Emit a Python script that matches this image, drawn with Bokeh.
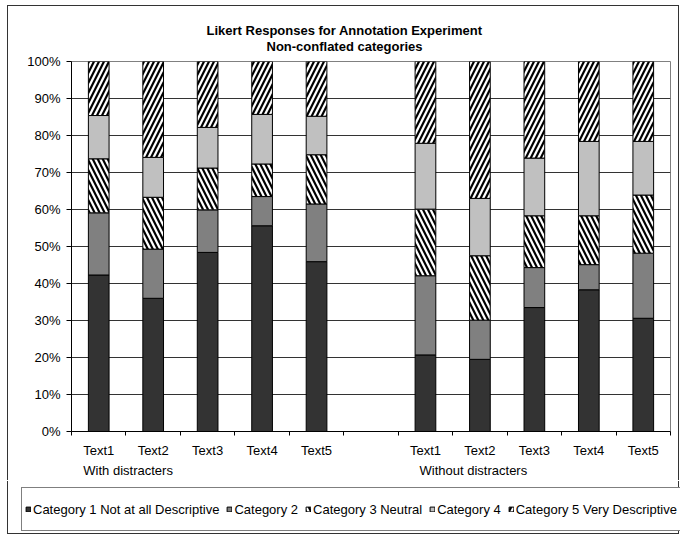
from bokeh.plotting import figure
from bokeh.models import (Range1d, FixedTicker, NumeralTickFormatter, LinearAxis, Label,
                          Legend, LegendItem, ColumnDataSource)
from bokeh.embed import file_html
from bokeh.resources import INLINE

# ---------------- data ----------------
title_line1 = "Likert Responses for Annotation Experiment"
title_line2 = "Non-conflated categories"
groups = ["With distracters", "Without distracters"]
texts = ["Text1", "Text2", "Text3", "Text4", "Text5"]
categories = ["Category 1 Not at all Descriptive", "Category 2", "Category 3 Neutral",
              "Category 4", "Category 5 Very Descriptive"]
# percentages per bar: 5 texts "With distracters", then 5 texts "Without distracters"
cat1 = [42.3, 36.0, 48.4, 55.6, 45.9, 20.7, 19.5, 33.5, 38.3, 30.6]
cat2 = [16.8, 13.3, 11.5, 7.9, 15.6, 21.4, 10.6, 10.8, 6.8, 17.6]
cat3 = [14.6, 14.0, 11.3, 8.8, 13.3, 18.0, 17.4, 14.0, 13.2, 15.7]
cat4 = [11.7, 10.8, 11.0, 13.4, 10.4, 17.8, 15.5, 15.6, 20.1, 14.5]
cat5 = [14.6, 25.9, 17.8, 14.3, 14.8, 22.1, 37.0, 26.1, 21.6, 21.6]
y_ticks = [i / 10 for i in range(11)]

# ---------------- styles ----------------
FONT = "Liberation Sans"
W = 672
BORDER = "1px solid #333333"
fills = ["#333333", "#808080", "white", "#c0c0c0", "white"]
hatches = [" ", " ", "left_diagonal_line", " ", "right_diagonal_line"]
HATCH = dict(hatch_color="black", hatch_weight=2.2, hatch_scale=10)

series = [cat1, cat2, cat3, cat4, cat5]
n = len(cat1)
totals = [sum(s[i] for s in series) for i in range(n)]
keys = ["c1", "c2", "c3", "c4", "c5"]
slots_per_group = len(texts) + 1
xs = [g * slots_per_group + i + 1 for g in range(len(groups)) for i in range(len(texts))]
data = {"x": xs}
for k, s in zip(keys, series):
    data[k] = [s[i] / totals[i] for i in range(n)]
source = ColumnDataSource(data)
n_slots = len(groups) * slots_per_group - 1


def strip(height, fill):
    f = figure(width=W, height=height, x_range=Range1d(0, W), y_range=Range1d(0, height),
               output_backend="svg", toolbar_location=None, title=None,
               x_axis_location=None, y_axis_location=None,
               min_border_left=0, min_border_right=0, min_border_top=0, min_border_bottom=0,
               outline_line_color=None, background_fill_color=fill, border_fill_color=fill)
    f.grid.visible = False
    return f


# ---------------- main chart ----------------
PH = 475
p = figure(width=W, height=PH, x_range=Range1d(0.5, n_slots + 0.5), y_range=Range1d(0, 1),
           output_backend="svg", toolbar_location=None, title=None,
           min_border_left=63, min_border_right=10, min_border_top=55, min_border_bottom=50,
           background_fill_color="white", border_fill_color="white",
           outline_line_color="#808080", outline_line_width=1)
p.styles = {"position": "absolute", "left": "7px", "top": "5px",
            "border-top": BORDER, "border-left": BORDER, "border-right": BORDER}

renderers = p.vbar_stack(keys, x="x", width=0.38, source=source,
                         fill_color=fills, line_color="black", line_width=1,
                         hatch_pattern=hatches, **HATCH)

ya = p.yaxis[0]
ya.ticker = FixedTicker(ticks=y_ticks)
ya.formatter = NumeralTickFormatter(format="0%")
ya.axis_line_color = "black"
ya.major_tick_line_color = "black"
ya.major_tick_out = 5
ya.major_tick_in = 0
ya.minor_tick_line_color = None
ya.major_label_standoff = 6
ya.major_label_text_font = FONT
ya.major_label_text_font_size = "13px"
ya.major_label_text_color = "black"

xa = p.xaxis[0]
xa.ticker = FixedTicker(ticks=xs, minor_ticks=[k + 0.5 for k in range(n_slots + 1)])
xa.major_label_overrides = {x: texts[i % len(texts)] for i, x in enumerate(xs)}
xa.axis_line_color = "black"
xa.major_tick_out = 0
xa.major_tick_in = 0
xa.minor_tick_out = 4
xa.minor_tick_in = 0
xa.minor_tick_line_color = "black"
xa.major_label_standoff = 7
xa.major_label_text_font = FONT
xa.major_label_text_font_size = "13px"
xa.major_label_text_color = "black"

group_pos = [1.54, 7.88]
ga = LinearAxis(ticker=FixedTicker(ticks=group_pos),
                major_label_overrides={x: groups[i] for i, x in enumerate(group_pos)},
                axis_line_color=None, major_tick_line_color=None, minor_tick_line_color=None,
                major_tick_out=0, major_tick_in=0, major_label_standoff=2,
                major_label_text_font=FONT, major_label_text_font_size="13px",
                major_label_text_color="black")
p.add_layout(ga, "below")

p.xgrid.grid_line_color = None
p.ygrid.grid_line_color = "#333333"
p.ygrid.ticker = FixedTicker(ticks=y_ticks)

# ---------------- title overlay (transparent, centred on the chart area) ----------------
TH = 50
tf = strip(TH, None)
for txt, dy in ((title_line1, 24), (title_line2, 40)):
    tf.add_layout(Label(x=W / 2, y=TH - dy, text=txt, text_align="center",
                        text_baseline="middle", text_font=FONT, text_font_size="13px",
                        text_font_style="bold", text_color="black"))
tf.styles = {"position": "absolute", "left": "8px", "top": "6px", "z-index": "2"}

# ---------------- legend strip ----------------
LH = 53
lf = strip(LH, "white")
lf.x_range = Range1d(-3, -2)   # the swatch renderers' bars stay out of view
swatches = [lf.vbar(x="x", top=k, width=0.38, source=source,
                    fill_color=fc, line_color="black", line_width=1,
                    hatch_pattern=hp, **HATCH)
            for k, fc, hp in zip(keys, fills, hatches)]
legend = Legend(items=[LegendItem(label=c, renderers=[r]) for c, r in zip(categories, swatches)],
                orientation="horizontal", location=(13, 3),
                label_text_font=FONT, label_text_font_size="13px", label_text_color="black",
                glyph_width=6, glyph_height=6, label_standoff=2, spacing=7, padding=3,
                label_height=36, margin=0,
                border_line_color="black", border_line_width=1,
                background_fill_color="white", background_fill_alpha=1)
lf.add_layout(legend, "center")
lf.styles = {"position": "absolute", "left": "7px", "top": f"{5 + 1 + PH}px",
             "border-bottom": BORDER, "border-left": BORDER, "border-right": BORDER}

open("out.html", "w").write(file_html([p, lf, tf], INLINE))
